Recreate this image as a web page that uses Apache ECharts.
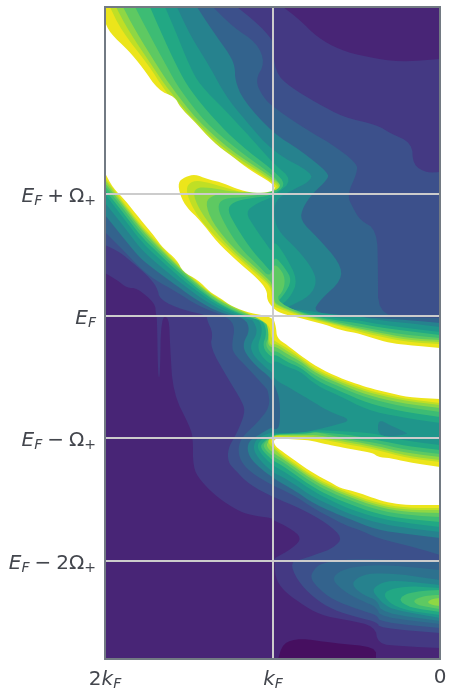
<!DOCTYPE html>
<html>
<head>
<meta charset="utf-8">
<style>html,body{margin:0;padding:0;background:#fff}#chart{width:454px;height:698px}</style>
<script src="https://cdn.jsdelivr.net/npm/echarts@6/dist/echarts.min.js"></script>
</head>
<body>
<div id="chart"></div>
<script>
// axes: k in mesh steps (0 .. 2kF = 335), energy in mesh steps relative to EF
const kTickValues = [335, 167, 0]
const kTickLabels = ['{num|2}{it|k}{sub|F}', '{it|k}{sub|F}', '0']
const eTickValues = [122, 0, -122, -245]
const eTickLabels = [
  '{it|E}{sub|F}{num|\u2005+\u2005Ω}{sub|+}',
  '{it|E}{sub|F}',
  '{it|E}{sub|F}{num|\u2005−\u2005Ω}{sub|+}',
  '{it|E}{sub|F}{num|\u2005−\u20052Ω}{sub|+}'
]

// filled contour regions, [k, E] outlines
const plotArea = [[0,309],[335,309],[335,-343],[0,-343]]
const lowTop = [[157,309],[140,296],[123,279],[100,266],[73,259],[40,254],[0,257],[0,309]]
const lowMain = [[335,43],[323,36],[313,28],[303,28],[285,13],[284,1],[283,-1],[282,-61],[280,-61],[279,-1],[271,-1],[270,-29],[267,-77],[250,-111],[247,-122],[247,-151],[240,-164],[223,-181],[203,-194],[190,-199],[168,-202],[167,-204],[150,-212],[138,-222],[147,-232],[167,-243],[165,-245],[165,-261],[157,-274],[140,-287],[120,-299],[93,-304],[65,-310],[62,-328],[40,-330],[0,-332],[0,-343],[335,-343]]
const lowest = [[162,-343],[157,-327],[140,-322],[107,-327],[64,-331],[64,-343]]
const band3 = [[203,309],[183,293],[170,279],[167,273],[165,244],[150,229],[123,213],[97,199],[63,191],[50,183],[28,173],[27,151],[13,143],[0,144],[0,-317],[60,-312],[63,-306],[80,-302],[107,-294],[127,-281],[143,-264],[150,-246],[137,-243],[120,-237],[107,-232],[97,-222],[113,-207],[140,-192],[167,-181],[190,-169],[205,-154],[212,-146],[212,-132],[203,-117],[195,-97],[197,-87],[213,-61],[230,-31],[227,-17],[233,-4],[233,1],[257,6],[280,16],[283,29],[293,41],[307,53],[320,64],[335,71],[335,309]]
const band4 = [[227,309],[207,289],[183,273],[175,253],[185,236],[177,219],[167,209],[133,186],[110,173],[83,153],[83,143],[93,121],[87,108],[80,96],[63,86],[62,46],[62,3],[35,-1],[0,-2],[0,-239],[23,-232],[63,-222],[80,-214],[93,-210],[110,-201],[127,-192],[143,-181],[157,-174],[168,-169],[190,-156],[200,-144],[202,-132],[198,-121],[183,-107],[170,-91],[172,-74],[175,-71],[193,-51],[207,-37],[208,-27],[205,-11],[212,-1],[242,10],[263,24],[285,36],[300,48],[315,64],[335,84],[335,309]]
const band5 = [[243,309],[228,286],[210,261],[205,249],[205,236],[197,216],[167,183],[140,166],[111,143],[113,136],[127,123],[137,109],[140,96],[123,79],[100,53],[98,36],[120,16],[127,4],[100,0],[63,-2],[33,-4],[0,-7],[0,-222],[33,-218],[63,-214],[93,-202],[110,-195],[127,-187],[143,-176],[157,-168],[168,-161],[180,-152],[190,-142],[193,-132],[190,-124],[178,-117],[168,-111],[164,-114],[160,-109],[160,-84],[165,-70],[170,-61],[183,-51],[195,-37],[197,-27],[190,-14],[195,-2],[220,3],[242,15],[263,30],[285,46],[300,58],[315,76],[335,101],[335,309]]
const band6 = [[263,309],[250,281],[230,249],[215,221],[195,196],[167,164],[127,143],[131,134],[148,126],[165,116],[166,98],[161,84],[142,66],[128,48],[123,34],[130,20],[150,10],[159,5],[140,7],[113,2],[83,0],[63,-4],[33,-7],[0,-11],[0,-216],[33,-212],[63,-207],[93,-197],[110,-189],[127,-181],[143,-170],[157,-161],[168,-156],[183,-141],[187,-131],[183,-122],[168,-116],[164,-117],[140,-117],[125,-114],[105,-109],[88,-104],[110,-96],[125,-87],[135,-81],[150,-72],[165,-64],[168,-56],[175,-51],[187,-39],[190,-29],[182,-16],[187,-4],[190,-4],[220,6],[242,20],[263,36],[285,54],[300,68],[315,88],[335,113],[335,309]]
const dipRight = [[62,-103],[50,-109],[33,-117],[33,-118],[45,-120],[62,-120]]
const band7 = [[275,309],[265,286],[250,249],[240,231],[215,206],[190,179],[167,153],[147,136],[165,121],[170,118],[183,113],[195,104],[185,88],[173,71],[168,64],[166,76],[155,61],[142,36],[150,18],[162,9],[140,5],[113,-1],[83,-4],[63,-8],[33,-12],[0,-16],[0,-107],[40,-101],[73,-94],[100,-80],[123,-70],[140,-55],[153,-51],[165,-44],[168,-49],[177,-42],[183,-31],[177,-14],[182,-2],[190,-3],[220,9],[242,24],[263,41],[285,61],[300,76],[315,96],[335,122],[335,309]]
const band8 = [[290,309],[280,286],[263,249],[250,226],[227,198],[200,171],[167,146],[153,131],[170,120],[190,118],[207,114],[213,106],[203,88],[190,68],[175,51],[168,43],[166,61],[155,48],[148,36],[156,21],[164,13],[140,4],[113,-3],[83,-7],[63,-11],[33,-15],[0,-19],[0,-101],[40,-95],[73,-87],[100,-75],[123,-65],[140,-51],[153,-46],[165,-38],[168,-42],[178,-31],[173,-17],[177,-4],[190,-2],[220,11],[242,27],[263,45],[285,66],[300,81],[315,101],[335,126],[335,309]]
const band9 = [[305,309],[293,286],[273,249],[260,226],[235,194],[205,168],[167,141],[158,129],[172,123],[193,119],[217,118],[223,109],[215,91],[200,68],[182,51],[170,38],[166,54],[155,41],[156,26],[165,16],[140,3],[113,-4],[83,-10],[63,-14],[33,-19],[0,-22],[0,-96],[40,-90],[73,-82],[100,-71],[123,-61],[140,-48],[153,-42],[165,-34],[168,-38],[175,-29],[171,-21],[173,-7],[190,-1],[220,12],[242,29],[263,48],[285,69],[300,85],[315,105],[335,130],[335,309]]
const band10 = [[317,309],[305,286],[282,249],[268,228],[243,196],[210,166],[167,138],[157,129],[175,122],[190,121],[210,123],[227,121],[235,114],[228,94],[207,68],[187,51],[173,38],[168,33],[166,18],[165,12],[140,2],[113,-5],[83,-12],[63,-16],[33,-22],[0,-24],[0,-92],[40,-87],[73,-79],[100,-68],[123,-58],[140,-45],[153,-38],[165,-30],[168,-32],[173,-27],[170,-14],[171,-3],[190,0],[220,14],[242,31],[263,50],[285,72],[300,88],[315,108],[335,133],[335,309]]
const band11 = [[324,309],[312,286],[287,249],[273,228],[248,198],[215,166],[167,136],[159,128],[172,124],[207,124],[227,128],[242,129],[247,123],[242,109],[230,91],[210,68],[191,51],[176,38],[167,28],[166,16],[165,11],[140,1],[113,-6],[83,-13],[63,-18],[33,-24],[0,-26],[0,-89],[40,-84],[73,-76],[100,-66],[123,-56],[140,-43],[153,-35],[165,-27],[168,-30],[171,-26],[172,-12],[175,-3],[190,1],[220,15],[242,32],[263,51],[285,74],[300,90],[315,110],[335,136],[335,309]]
const band12 = [[330,309],[319,286],[290,249],[277,228],[252,196],[220,166],[167,134],[161,127],[195,123],[213,128],[230,133],[245,136],[253,131],[253,121],[245,104],[233,88],[213,68],[194,51],[179,38],[169,29],[168,16],[166,10],[165,9],[140,0],[113,-7],[83,-15],[63,-20],[33,-26],[0,-28],[0,-87],[40,-82],[73,-74],[100,-64],[123,-54],[140,-41],[153,-32],[165,-25],[169,-22],[170,-9],[190,2],[220,16],[242,33],[263,53],[285,76],[300,92],[315,112],[335,138],[335,309]]
const lower7 = [[166,-118],[150,-117],[133,-116],[123,-114],[100,-115],[83,-116],[63,-118],[33,-125],[0,-129],[0,-211],[33,-207],[63,-202],[93,-192],[110,-184],[127,-175],[143,-164],[157,-155],[168,-149],[178,-139],[183,-131],[180,-124]]
const lower8 = [[166,-118],[150,-118],[133,-117],[123,-116],[100,-118],[83,-120],[63,-124],[33,-130],[0,-134],[0,-206],[33,-203],[63,-198],[93,-187],[110,-180],[127,-171],[143,-160],[157,-150],[168,-144],[180,-132],[177,-126]]
const lower9 = [[166,-119],[150,-118],[133,-118],[125,-116],[115,-118],[100,-121],[83,-124],[63,-127],[33,-134],[0,-138],[0,-201],[33,-199],[63,-194],[93,-183],[110,-176],[127,-167],[143,-156],[157,-146],[168,-140],[177,-131],[175,-126]]
const lower10 = [[166,-119],[150,-119],[133,-119],[123,-119],[100,-123],[83,-126],[63,-130],[33,-137],[0,-141],[0,-197],[33,-196],[63,-191],[93,-180],[110,-173],[127,-164],[143,-153],[157,-143],[168,-136],[173,-131],[173,-127]]
const lower11 = [[166,-119],[150,-120],[133,-120],[123,-121],[100,-125],[83,-128],[63,-132],[33,-140],[0,-144],[0,-194],[33,-194],[63,-189],[93,-178],[110,-171],[127,-162],[143,-151],[157,-141],[166,-133],[171,-128],[172,-124]]
const lower12 = [[166,-120],[150,-121],[133,-121],[123,-122],[100,-127],[83,-130],[63,-134],[33,-142],[0,-146],[0,-192],[33,-192],[63,-187],[93,-176],[110,-169],[127,-160],[143,-149],[157,-139],[166,-131],[170,-125]]
const blob4 = [[130,-261],[125,-252],[118,-247],[90,-243],[40,-244],[0,-245],[0,-312],[60,-306],[63,-299],[80,-294],[107,-284],[123,-271]]
const blob5 = [[108,-264],[102,-256],[88,-251],[63,-249],[40,-250],[0,-254],[0,-308],[60,-301],[63,-291],[80,-284],[95,-276]]
const blob6 = [[89,-269],[82,-261],[68,-257],[40,-258],[0,-264],[0,-305],[58,-297],[63,-284],[75,-280]]
const blob7 = [[68,-274],[60,-267],[45,-264],[0,-269],[0,-302],[45,-294],[55,-289],[62,-282]]
const blob8 = [[57,-279],[50,-273],[30,-270],[0,-272],[0,-299],[30,-295],[48,-289]]
const blob9 = [[41,-284],[35,-278],[20,-275],[0,-274],[0,-296],[20,-293],[33,-290]]
const blob10 = [[27,-285],[20,-281],[8,-279],[0,-279],[0,-293],[12,-291],[22,-289]]
const blob11 = [[13,-286],[8,-283],[0,-282],[0,-290],[8,-289]]
const overUpper = [[335,294],[330,283],[312,266],[297,248],[282,226],[265,219],[260,209],[247,196],[227,174],[207,159],[190,146],[168,133],[164,126],[177,123],[193,124],[205,128],[220,134],[233,137],[245,142],[255,139],[262,134],[260,121],[253,108],[240,96],[223,74],[202,54],[183,38],[173,26],[173,16],[167,8],[160,3],[140,-2],[113,-9],[100,-14],[83,-17],[67,-22],[50,-27],[33,-29],[0,-32],[0,-83],[33,-81],[50,-77],[67,-73],[83,-68],[100,-62],[123,-51],[140,-39],[153,-29],[163,-22],[164,-11],[167,-1],[190,3],[207,9],[220,18],[230,24],[242,36],[257,44],[263,56],[277,68],[285,79],[300,97],[315,116],[327,128],[335,143]]
const overLower = [[166,-122],[150,-123],[133,-124],[123,-126],[110,-129],[100,-131],[83,-134],[67,-137],[62,-141],[50,-142],[33,-146],[0,-151],[0,-189],[33,-189],[50,-187],[67,-182],[83,-176],[100,-172],[110,-166],[127,-157],[143,-146],[157,-136],[166,-129]]

// painted in this order, later regions on top: [outline, contour level]
const regions = [
  [plotArea, 2], [lowTop, 1], [lowMain, 1], [lowest, 0],
  [band3, 3], [band4, 4], [blob4, 4], [band5, 6], [blob5, 5], [band6, 7], [dipRight, 6], [blob6, 6],
  [blob7, 7], [blob8, 8], [blob9, 9], [blob10, 10], [blob11, 11],
  [band7, 8], [lower7, 8], [band8, 9], [lower8, 9], [band9, 10], [lower9, 10],
  [band10, 11], [lower10, 11], [band11, 12], [lower11, 12], [band12, 13], [lower12, 13],
  [overUpper, 14], [overLower, 14]
]
const levelColors = ['#460f60', '#482576', '#443983', '#3c508b', '#33638d', '#2d718e', '#26828e', '#1f968b', '#22a884', '#3dbc74', '#5ec962', '#8fd744', '#c0df25', '#ece51b', '#ffffff']

const textColor = '#43464d'
const mainFont = { fontFamily: 'DejaVu Sans', fontSize: 20, color: textColor }
const labelRich = {
  it: { ...mainFont, fontStyle: 'italic' },
  num: { ...mainFont },
  sub: { ...mainFont, fontSize: 14, fontStyle: 'italic', padding: [9, 0, 0, 0] }
}

// corner cutting so the outlines read as contours, frame vertices stay put
function roundOutline(points, passes) {
  let pts = points
  for (let n = 0; n < passes; n++) {
    const out = []
    pts.forEach((p, i) => {
      if (p[0] === 0 || p[0] === 335 || p[1] === 309 || p[1] === -343) {
        out.push(p)
        return
      }
      const a = pts[(i + pts.length - 1) % pts.length]
      const b = pts[(i + 1) % pts.length]
      out.push([p[0] * 0.75 + a[0] * 0.25, p[1] * 0.75 + a[1] * 0.25])
      out.push([p[0] * 0.75 + b[0] * 0.25, p[1] * 0.75 + b[1] * 0.25])
    })
    pts = out
  }
  return pts
}

const chart = echarts.init(document.getElementById('chart'), null, { renderer: 'canvas' })

chart.setOption({
  animation: false,
  grid: {
    show: true,
    z: 10,
    left: 105,
    top: 7,
    width: 335,
    height: 652,
    backgroundColor: 'transparent',
    borderColor: '#727a83',
    borderWidth: 2
  },
  xAxis: {
    type: 'value',
    inverse: true,
    min: 0,
    max: 335,
    z: 5,
    axisLine: { show: false },
    axisTick: { show: false, customValues: kTickValues },
    axisLabel: {
      customValues: kTickValues,
      margin: 9,
      ...mainFont,
      formatter: (v) => kTickLabels[kTickValues.indexOf(v)],
      rich: labelRich
    },
    splitLine: { show: true, lineStyle: { color: '#cccccc', width: 2 } }
  },
  yAxis: {
    type: 'value',
    min: -343,
    max: 309,
    z: 5,
    axisLine: { show: false },
    axisTick: { show: false, customValues: eTickValues },
    axisLabel: {
      customValues: eTickValues,
      margin: 9,
      padding: [5, 0, 0, 0],
      ...mainFont,
      formatter: (v) => eTickLabels[eTickValues.indexOf(v)],
      rich: labelRich
    },
    splitLine: { show: true, lineStyle: { color: '#cccccc', width: 2 } }
  },
  series: [
    {
      type: 'custom',
      silent: true,
      data: regions.map((r, i) => [i]),
      encode: { x: [], y: [] },
      renderItem: (params, api) => {
        const region = regions[params.dataIndex]
        return {
          type: 'polygon',
          shape: { points: roundOutline(region[0], 2).map((p) => api.coord(p)) },
          style: { fill: levelColors[region[1]] }
        }
      }
    }
  ]
})

window.addEventListener('resize', () => chart.resize())
</script>
</body>
</html>
